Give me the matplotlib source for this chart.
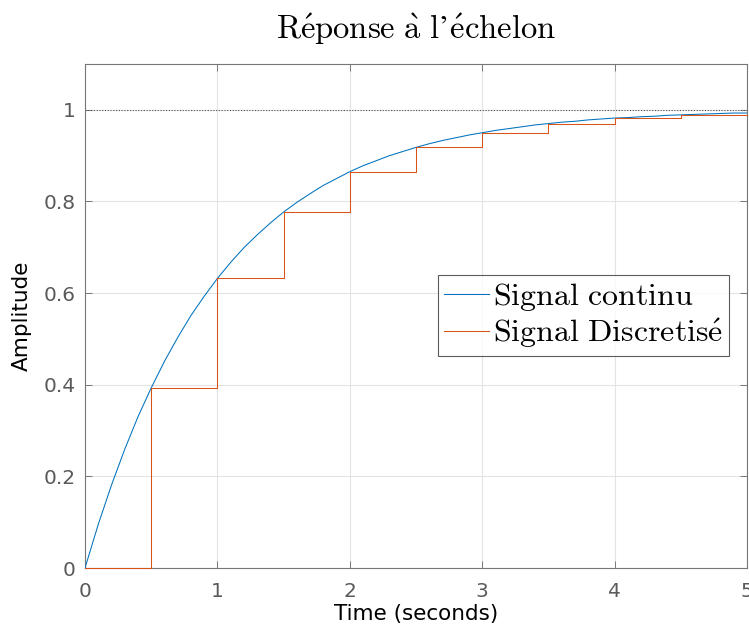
import numpy as np
import matplotlib
matplotlib.use("Agg")
import matplotlib.pyplot as plt

plt.rcParams['mathtext.fontset'] = 'cm'
plt.rcParams['mathtext.fallback'] = 'stix'
plt.rcParams['font.family'] = ['DejaVu Sans']

# Continuous step response (every 0.1 s)
t_cont = np.round(np.arange(0, 51) * 0.1, 1)
y_cont = [0.000, 0.095, 0.181, 0.259, 0.330, 0.393, 0.451, 0.503, 0.551, 0.593,
          0.632, 0.667, 0.699, 0.727, 0.753, 0.777, 0.798, 0.817, 0.835, 0.850,
          0.865, 0.878, 0.889, 0.900, 0.909, 0.918, 0.926, 0.933, 0.939, 0.945,
          0.950, 0.955, 0.959, 0.963, 0.967, 0.970, 0.973, 0.975, 0.978, 0.980,
          0.982, 0.983, 0.985, 0.986, 0.988, 0.989, 0.990, 0.991, 0.992, 0.993,
          0.993]

# Discretised signal (zero-order hold, Ts = 0.5 s)
t_disc = [0.0, 0.5, 1.0, 1.5, 2.0, 2.5, 3.0, 3.5, 4.0, 4.5, 5.0]
y_disc = [0.000, 0.393, 0.632, 0.777, 0.865, 0.918, 0.950, 0.970, 0.982, 0.989, 0.989]

final_value = 1.0
xticks = [0, 1, 2, 3, 4, 5]
yticks = [0, 0.2, 0.4, 0.6, 0.8, 1]
ytick_labels = ['0', '0.2', '0.4', '0.6', '0.8', '1']

fig = plt.figure(figsize=(7.49, 6.26), dpi=100)
ax = fig.add_axes([85/749, 58/626, 662/749, 504/626])

blue = '#0072BD'
orange = '#D95319'

ax.plot(t_cont, y_cont, color=blue, lw=0.75, zorder=3, label=r'$\mathrm{Signal\ continu}$')
ax.step(t_disc, y_disc, where='post', color=orange, lw=0.75, zorder=3.1, clip_on=False,
        label=r'$\mathrm{Signal\ Discretis\acute{e}}$')
ax.axhline(final_value, color='#555555', lw=0.8, ls=(0, (1, 1.5)), zorder=1)

ax.set_xlim(0, 5)
ax.set_ylim(0, 1.1)
ax.set_xticks(xticks)
ax.set_yticks(yticks)
ax.set_yticklabels(ytick_labels)
ax.grid(True, color='#e3e3e3', lw=0.8)
ax.set_axisbelow(True)
ax.tick_params(direction='in', top=True, right=True, length=5, width=0.6,
               colors='#666666', labelsize=14.5, labelcolor='#5a5a5a')
ax.tick_params(axis='x', pad=10)
ax.tick_params(axis='y', pad=7)
for s in ax.spines.values():
    s.set_color('#777777')
    s.set_linewidth(0.8)

ax.set_xlabel('Time (seconds)', fontsize=15.5, color='black', labelpad=2)
ax.set_ylabel('Amplitude', fontsize=15.5, color='black', labelpad=8)
ax.set_title("$\\mathrm{R\\acute{e}ponse\\ \\grave{a}\\ l\u2019\\acute{e}chelon}$",
             fontsize=23.5, pad=18)

leg = ax.legend(loc='center right', bbox_to_anchor=(0.973, 0.501), fontsize=23,
                frameon=True, fancybox=False, edgecolor='#333333',
                handlelength=1.4, handletextpad=0.12, borderpad=0.2,
                labelspacing=0.08, borderaxespad=0)
leg.get_frame().set_linewidth(0.8)

fig.savefig('out.png', dpi=100)
